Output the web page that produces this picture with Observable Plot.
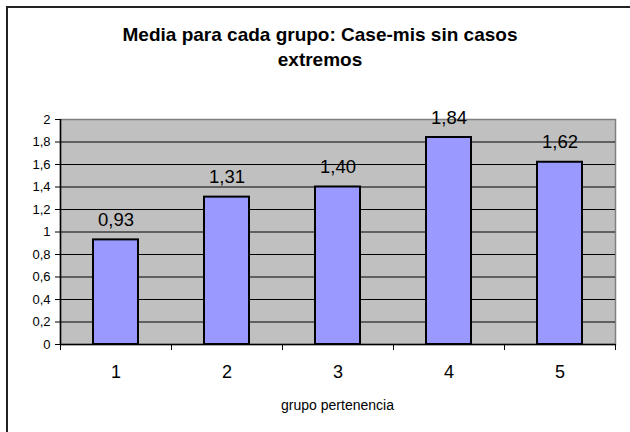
<!DOCTYPE html>
<html><head><meta charset="utf-8">
<script src="https://cdn.jsdelivr.net/npm/d3@7"></script>
<script src="https://cdn.jsdelivr.net/npm/@observablehq/plot@0.6"></script>
<style>
body{margin:0;background:#fff;}
#wrap{position:relative;width:630px;height:432px;overflow:hidden;font-family:"Liberation Sans",Arial,sans-serif;background:#fff;}
#frame{position:absolute;left:6px;top:6px;right:-10px;bottom:-10px;border-left:2px solid #222;border-top:2px solid #222;}
#chart{position:absolute;left:0;top:0;}
#title{position:absolute;left:0;top:22px;width:640px;text-align:center;font-weight:bold;font-size:19px;line-height:25px;color:#000;}
#xlabel{position:absolute;left:60px;top:398px;width:555px;text-align:center;font-size:14px;line-height:14px;color:#000;}
</style>
</head><body>
<div id="wrap">
  <div id="frame"></div>
  <div id="chart"></div>
  <div id="title">Media para cada grupo: Case-mis sin casos<br>extremos</div>
  <div id="xlabel">grupo pertenencia</div>
</div>
<script>
const groups = ["1", "2", "3", "4", "5"];
const means = [0.93, 1.31, 1.40, 1.84, 1.62];
const yTicks = [0, 0.2, 0.4, 0.6, 0.8, 1, 1.2, 1.4, 1.6, 1.8, 2];
const gridTicks = [0.2, 0.4, 0.6, 0.8, 1, 1.2, 1.4, 1.6, 1.8];

const data = groups.map((g, i) => ({g, v: means[i]}));
const comma = s => String(s).replace(".", ",");

const plot = Plot.plot({
  width: 630,
  height: 432,
  marginTop: 119,
  marginBottom: 88,
  marginLeft: 60,
  marginRight: 15,
  style: {fontFamily: '"Liberation Sans", Arial, sans-serif', color: "#000", background: "transparent"},
  x: {domain: groups, paddingInner: 0.595, paddingOuter: 0.2975, label: null},
  y: {domain: [0, 2], label: null},
  marks: [
    Plot.frame({fill: "#c0c0c0", stroke: "#808080", strokeWidth: 1.5}),
    Plot.ruleY(gridTicks, {stroke: "#000", strokeWidth: 1}),
    Plot.barY(data, {x: "g", y: "v", fill: "#9999ff", stroke: "#000", strokeWidth: 2}),
    Plot.ruleY([0], {stroke: "#000", strokeWidth: 1.5}),
    Plot.ruleX(groups.slice(0, 1), {x: d => d, dx: -55.5, y1: 0, y2: 2, stroke: "#000", strokeWidth: 1.5}),
    Plot.ruleX(groups, {x: d => d, dx: -55.5, y1: 0, y2: 0, insetBottom: -6, stroke: "#000"}),
    Plot.ruleX(groups.slice(-1), {x: d => d, dx: 55.5, y1: 0, y2: 0, insetBottom: -6, stroke: "#000"}),
    Plot.axisY({ticks: yTicks, tickSize: 5, tickPadding: 5, tickFormat: d => comma(d), fontSize: 13}),
    Plot.axisX({tickSize: 0, tickPadding: 21, fontSize: 18}),
    Plot.text(data, {x: "g", y: "v", text: d => comma(d.v.toFixed(2)), lineAnchor: "bottom", dy: -14, fontSize: 18.5, fill: "#000"})
  ]
});
document.getElementById("chart").appendChild(plot);
</script>
</body></html>
